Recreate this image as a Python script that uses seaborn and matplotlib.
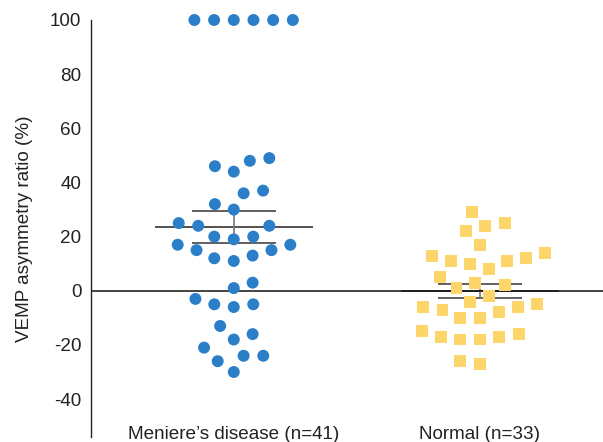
import numpy as np
import pandas as pd
import matplotlib
matplotlib.use("Agg")
import matplotlib.pyplot as plt
import seaborn as sns

# ---- data ----
groups = ["Meniere\u2019s disease (n=41)", "Normal (n=33)"]
meniere = [100, 100, 100, 100, 100, 100,
           49, 46, 44, 48, 37, 36, 32, 30, 24, 24, 25,
           17, 20, 19, 20, 15, 15, 17, 12, 11, 13, 1, 3,
           -3, -5, -6, -5, -13, -16, -18, -21, -24, -26, -24, -30]
normal = [29, 22, 24, 25, 17, 14, 12, 11, 8, 10, 11, 13,
          5, 3, 1, 2, -2, -5, -6, -8, -10, -10, -7, -6, -4,
          -15, -17, -18, -18, -17, -16, -27, -26]
colors = ["#2a7fc8", "#fdd66b"]
markers = ["o", "s"]
yticks = [-40, -20, 0, 20, 40, 60, 80, 100]

df = pd.DataFrame({
    "group": [groups[0]] * len(meniere) + [groups[1]] * len(normal),
    "value": meniere + normal,
})

sns.set_theme(style="white")
plt.rcParams["font.family"] = ["Liberation Sans", "DejaVu Sans"]
FS = 13.6

fig = plt.figure(figsize=(6.03, 4.42), dpi=100)
ax = fig.add_axes([91 / 603, 1 - 437 / 442, 1 - 91 / 603, (437 - 20) / 442])

for g, c, m in zip(groups, colors, markers):
    sns.swarmplot(data=df[df.group == g], x="group", y="value", order=groups,
                  color=c, marker=m, size=8.6, linewidth=4.9, edgecolor="none",
                  zorder=3, ax=ax)

# let the points at 100 show in full (only collections that hold points)
for coll in ax.collections:
    off = np.asarray(coll.get_offsets())
    if off.size and np.isfinite(off).all():
        coll.set_clip_on(False)
    else:
        coll.set_visible(False)

# mean +/- SEM
for i, g in enumerate(groups):
    v = df.loc[df.group == g, "value"].to_numpy()
    mu = v.mean()
    se = v.std(ddof=1) / np.sqrt(len(v))
    ax.hlines(mu, i - 0.32, i + 0.32, color="#333333", lw=1.2, zorder=1)
    ax.hlines([mu - se, mu + se], i - 0.17, i + 0.17, color="#444444", lw=1.2, zorder=1)
    ax.vlines(i, mu - se, mu + se, color="#777777", lw=1.2, zorder=1)

ax.axhline(0, color="#111111", lw=1.1, zorder=1)

ax.set_xlim(-0.58, 1.5)
ax.set_ylim(-54, 100)
ax.set_yticks(yticks)
ax.set_yticklabels([str(t) for t in yticks], fontsize=FS, color="#222222")
ax.tick_params(axis="y", direction="in", length=5, width=0.9, color="#222222", pad=7)
ax.tick_params(axis="x", length=0, pad=-8, labelsize=FS, labelcolor="#222222")
ax.set_xlabel("")
ax.set_ylabel("VEMP asymmetry ratio (%)", fontsize=FS, color="#222222")
ax.yaxis.set_label_coords(-0.113, 0.5)
for s in ["top", "right", "bottom"]:
    ax.spines[s].set_visible(False)
ax.spines["left"].set_color("#222222")
ax.spines["left"].set_linewidth(1.0)

fig.savefig("out.png", dpi=100)
